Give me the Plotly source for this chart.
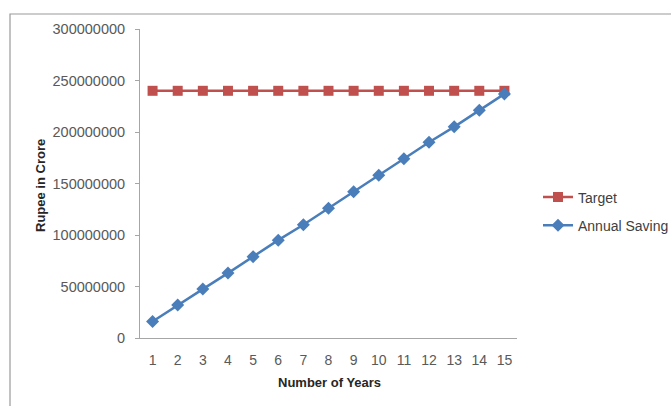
import plotly.graph_objects as go

years = list(range(1, 16))
target = [240000000] * 15
annual_saving = [16000000, 32000000, 47500000, 63000000, 79000000, 95000000, 110000000,
                 126000000, 142000000, 158000000, 174000000, 190000000, 205000000,
                 221000000, 237000000]
y_ticks = [0, 50000000, 100000000, 150000000, 200000000, 250000000, 300000000]

OFF = 0  # body margin removed via post_script
W, H = 671, 406
# desired plot area on screen: x 140..517, y 29..338
L = 140 - OFF
T = 29 - OFF
R = W - (517 - OFF)
B = H - (338 - OFF)
pw = W - L - R
ph = H - T - B

def px_x(x):
    return (x - OFF - L) / pw

def px_y(y):
    return 1 - (y - OFF - T) / ph

fig = go.Figure()
fig.add_trace(go.Scatter(
    x=years, y=target, name="Target", mode="lines+markers", legendgroup="a",
    line=dict(color="#C0504D", width=2.5),
    marker=dict(symbol="square", size=10, color="#C0504D"),
))
fig.add_trace(go.Scatter(
    x=years, y=annual_saving, name="Annual Saving", mode="lines+markers", legendgroup="b",
    line=dict(color="#4A7EBB", width=2.5),
    marker=dict(symbol="diamond", size=10, color="#4A7EBB"),
))

font = "Liberation Sans, Arial, sans-serif"
tick_col = "#595959"
fig.update_layout(
    width=W, height=H, autosize=False,
    margin=dict(l=L, r=R, t=T, b=B, autoexpand=False),
    paper_bgcolor="white", plot_bgcolor="white",
    font=dict(family=font, size=13, color=tick_col),
    showlegend=True,
    legend=dict(x=px_x(538), y=px_y(211.5), xanchor="left", yanchor="middle",
                font=dict(size=14, color="#404040"), bgcolor="rgba(0,0,0,0)",
                tracegroupgap=7, itemwidth=30),
    xaxis=dict(
        range=[0.5, 15.5], tickmode="array", tickvals=years,
        ticktext=[str(v) for v in years],
        showgrid=False, zeroline=False, showline=True, linecolor="#A6A6A6", linewidth=1,
        tickfont=dict(size=14, color=tick_col),
        ticks="", ticklabelstandoff=9, automargin=False, fixedrange=True,
    ),
    yaxis=dict(
        range=[0, 300000000], tickmode="array", tickvals=y_ticks,
        ticktext=[str(v) for v in y_ticks],
        showgrid=False, zeroline=False, showline=True, linecolor="#A6A6A6", linewidth=1,
        ticks="outside", ticklen=4, tickcolor="#A6A6A6", ticklabelstandoff=7,
        tickfont=dict(size=14.5, color=tick_col),
        automargin=False, fixedrange=True,
    ),
    annotations=[
        dict(text="<b>Number of Years</b>", xref="paper", yref="paper",
             x=px_x(329), y=px_y(382), xanchor="center", yanchor="middle",
             showarrow=False, font=dict(size=13, color="#262626")),
        dict(text="<b>Rupee in Crore</b>", xref="paper", yref="paper",
             x=px_x(40), y=px_y(185), xanchor="center", yanchor="middle",
             textangle=-90, showarrow=False, font=dict(size=13, color="#262626")),
    ],
    shapes=[
        dict(type="rect", xref="paper", yref="paper",
             x0=px_x(10), x1=px_x(700),
             y0=px_y(440), y1=px_y(14),
             line=dict(color="#9A9A9A", width=1.2), layer="below"),
    ],
)

fig.write_html(
    "out.html",
    config={"displayModeBar": False},
    post_script="document.body.style.margin='0';document.body.style.overflow='hidden';",
)
